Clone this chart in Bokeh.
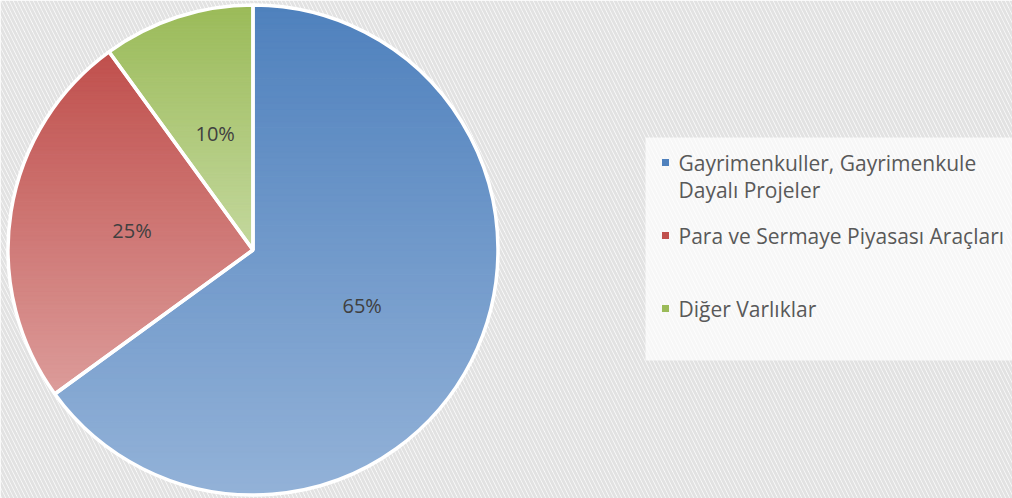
import numpy as np
from bokeh.plotting import figure
from bokeh.models import Range1d, BoxAnnotation, ColumnDataSource
from bokeh.core.properties import value
from bokeh.embed import file_html
from bokeh.resources import INLINE

# ---- data ----
categories = ["Gayrimenkuller, Gayrimenkule Dayalı Projeler",
              "Para ve Sermaye Piyasası Araçları",
              "Diğer Varlıklar"]
values = [65, 25, 10]
legend_lines = [["Gayrimenkuller, Gayrimenkule", "Dayalı Projeler"],
                ["Para ve Sermaye Piyasası Araçları"],
                ["Diğer Varlıklar"]]
top_colors = ["#4f81bd", "#c0504d", "#9bbb59"]
bottom_colors = ["#93b2d8", "#dc9c9a", "#c4d89e"]

# ---- layout (data units == pixels) ----
W, H = 1012, 498
cx, cy, R = 252.5, 248.5, 245
FONT = "Open Sans"

p = figure(width=W, height=H, output_backend="svg", toolbar_location=None,
           x_range=Range1d(0, W), y_range=Range1d(0, H), min_border=0,
           outline_line_color=None)
p.axis.visible = False
p.grid.visible = False
p.background_fill_color = "white"
p.border_fill_color = "white"

p.add_layout(BoxAnnotation(fill_color="white", fill_alpha=1.0, line_color=None,
                           hatch_pattern="left_diagonal_line", hatch_color="#e2e2e2",
                           hatch_scale=8, hatch_weight=3, level="underlay"))
# legend background
p.add_layout(BoxAnnotation(left=645, right=W, bottom=138, top=361,
                           fill_color="white", fill_alpha=0.72, line_color=None,
                           level="underlay"))


def hex2rgb(h):
    h = h.lstrip("#")
    return np.array([int(h[i:i + 2], 16) for i in (0, 2, 4)], float)


def rgb2hex(c):
    c = np.clip(np.round(c), 0, 255).astype(int)
    return "#%02x%02x%02x" % tuple(c)


def clip_half(poly, yv, keep_above):
    out = []
    n = len(poly)
    for i in range(n):
        a = poly[i]
        b = poly[(i + 1) % n]
        ina = a[1] >= yv if keep_above else a[1] <= yv
        inb = b[1] >= yv if keep_above else b[1] <= yv
        if ina:
            out.append(a)
        if ina != inb:
            t = (yv - a[1]) / (b[1] - a[1])
            out.append((a[0] + t * (b[0] - a[0]), yv))
    return out


total = float(sum(values))
fracs = [v / total for v in values]
starts = []
ends = []
ang = np.pi / 2
for f in fracs:
    starts.append(ang - 2 * np.pi * f)
    ends.append(ang)
    ang -= 2 * np.pi * f

xs_all, ys_all, cols_all = [], [], []
for i in range(len(values)):
    a0, a1 = starts[i], ends[i]
    th = np.linspace(a0, a1, 240)
    poly = [(cx, cy)] + [(cx + R * np.cos(t), cy + R * np.sin(t)) for t in th]
    ys = [q[1] for q in poly]
    ymin, ymax = min(ys), max(ys)
    nb = 80
    edges = np.linspace(ymin, ymax, nb + 1)
    ct, cb = hex2rgb(top_colors[i]), hex2rgb(bottom_colors[i])
    for k in range(nb):
        lo, hi = edges[k], edges[k + 1]
        part = clip_half(poly, lo - 0.3, True)
        if len(part) < 3:
            continue
        part = clip_half(part, hi + 0.3, False)
        if len(part) < 3:
            continue
        tfrac = ((lo + hi) / 2 - ymin) / (ymax - ymin)
        col = cb + (ct - cb) * tfrac
        xs_all.append([q[0] for q in part])
        ys_all.append([q[1] for q in part])
        cols_all.append(rgb2hex(col))

p.patches(xs="xs", ys="ys", fill_color="c", line_color="c", line_width=0.6,
          source=ColumnDataSource(dict(xs=xs_all, ys=ys_all, c=cols_all)))

# white separators / outline
p.wedge(x=[cx] * 3, y=[cy] * 3, radius=R, start_angle=starts, end_angle=ends,
        fill_color=None, line_color="white", line_width=3.5)

# percentage labels
mids = [(s + e) / 2 for s, e in zip(starts, ends)]
lx = [cx + 0.5 * R * np.cos(m) for m in mids]
ly = [cy + 0.5 * R * np.sin(m) for m in mids]
labels = ["%d%%" % round(f * 100) for f in fracs]
p.text(x=lx, y=ly, text=labels, text_font=value(FONT), text_font_size="20px",
       text_color="#404040", text_align="center", text_baseline="middle")

# legend
item_y = [336, 263, 190]
line_h = 27
sq_x, tx_x = 665, 678
p.scatter(x=[sq_x] * 3, y=item_y, marker="square", size=7,
          fill_color=top_colors, line_color=None)
txs, tys, tts = [], [], []
for i, lines in enumerate(legend_lines):
    for j, t in enumerate(lines):
        txs.append(tx_x)
        tys.append(item_y[i] - j * line_h)
        tts.append(t)
p.text(x=txs, y=tys, text=tts, text_font=value(FONT), text_font_size="21px",
       text_color="#595959", text_align="left", text_baseline="middle")

open("out.html", "w").write(file_html(p, INLINE))
